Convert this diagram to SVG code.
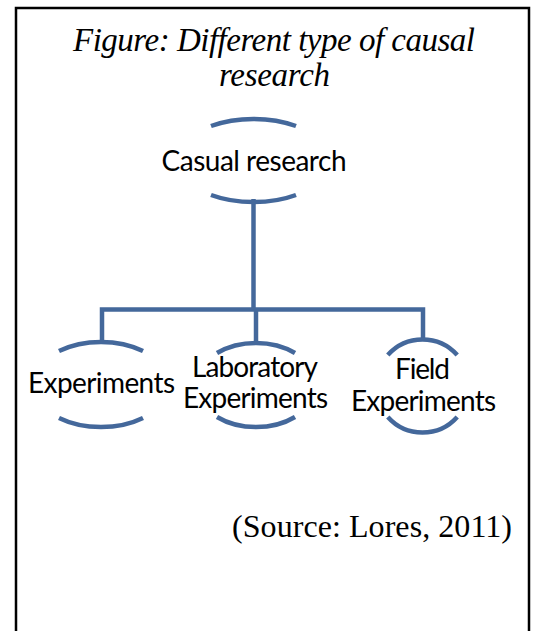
<svg xmlns="http://www.w3.org/2000/svg" width="536" height="631" viewBox="0 0 536 631">
<style>
.arc{fill:none;stroke:#44689b;stroke-width:4.5;stroke-linecap:butt}
.con{fill:none;stroke:#44689b;stroke-width:4.5;stroke-linejoin:miter}
.lbl{font-family:Lato,"Open Sans",sans-serif;font-size:28px;fill:#000;text-anchor:middle}
.title{font-family:"Liberation Serif",serif;font-style:italic;font-size:33px;fill:#000;text-anchor:middle}
.src{font-family:"Liberation Serif",serif;font-size:32px;fill:#000;text-anchor:middle}
</style>
<rect width="536" height="631" fill="#fff"/>
<path d="M16 631 V8 H529 V631" fill="none" stroke="#000" stroke-width="2.5"/>
<g id="title">
<text class="title" x="274" y="51" textLength="402">Figure: Different type of causal</text>
<text class="title" x="274.5" y="86" textLength="111">research</text>
</g>
<g id="connectors">
<path class="con" d="M253.5 199 V309.5"/>
<path class="con" d="M102 344 V309.5 H423 V341"/>
<path class="con" d="M256 309.5 V345"/>
</g>
<g id="node-casual">
<path class="arc" d="M211 126 A76 41.5 0 0 1 296 126"/>
<path class="arc" d="M211 195 A76 41.5 0 0 0 296 195"/>
<text class="lbl" x="254" y="171" textLength="185">Casual research</text>
</g>
<g id="node-experiments">
<path class="arc" d="M59 351 A68 42.5 0 0 1 143 351"/>
<path class="arc" d="M59 418 A68 42.5 0 0 0 143 418"/>
<text class="lbl" x="101.5" y="393" textLength="147">Experiments</text>
</g>
<g id="node-laboratory">
<path class="arc" d="M217 353 A60 42 0 0 1 295 353"/>
<path class="arc" d="M217 417 A60 42 0 0 0 295 417"/>
<text class="lbl" x="255" y="377" textLength="126">Laboratory</text>
<text class="lbl" x="255.5" y="408" textLength="145">Experiments</text>
</g>
<g id="node-field">
<path class="arc" d="M387.8 355 A46.5 46.5 0 0 1 457.2 355"/>
<path class="arc" d="M387.8 417 A46.5 46.5 0 0 0 457.2 417"/>
<text class="lbl" x="422.5" y="379" textLength="55">Field</text>
<text class="lbl" x="423.5" y="411" textLength="145">Experiments</text>
</g>
<g id="source">
<text class="src" x="372" y="537" textLength="280">(Source: Lores, 2011)</text>
</g>
</svg>
